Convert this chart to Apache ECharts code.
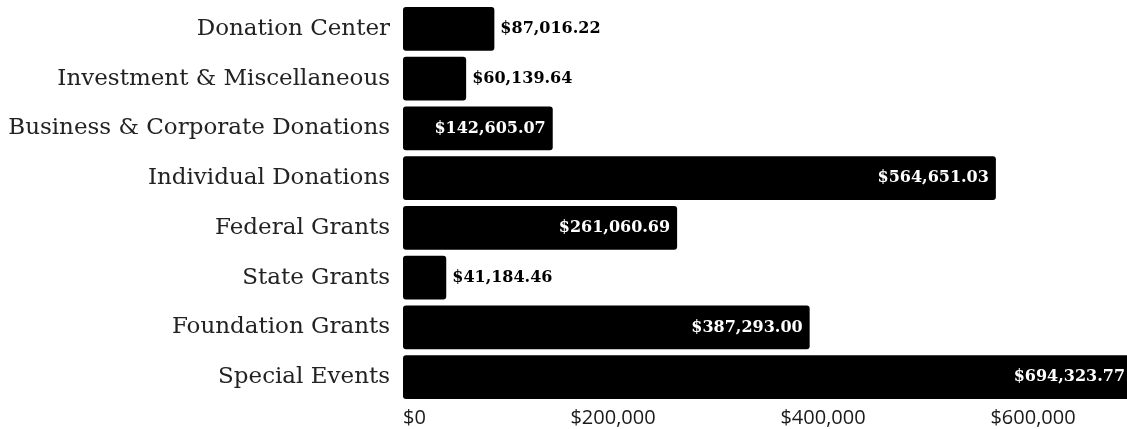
<!DOCTYPE html>
<html>
<head>
<meta charset="utf-8">
<script src="https://cdn.jsdelivr.net/npm/echarts@6/dist/echarts.min.js"></script>
<style>
  html, body { margin: 0; padding: 0; background: #fff; }
  #main { width: 1127px; height: 429px; }
</style>
</head>
<body>
<div id="main"></div>
<script>
// revenue sources, top to bottom
const categories = [
  'Donation Center',
  'Investment & Miscellaneous',
  'Business & Corporate Donations',
  'Individual Donations',
  'Federal Grants',
  'State Grants',
  'Foundation Grants',
  'Special Events'
]
const amounts = [87016.22, 60139.64, 142605.07, 564651.03, 261060.69, 41184.46, 387293.00, 694323.77]
const tickValues = [0, 200000, 400000, 600000]

const money = v => '$' + v.toLocaleString('en-US', { minimumFractionDigits: 2, maximumFractionDigits: 2 })
const tickText = v => '$' + v.toLocaleString('en-US')

const chart = echarts.init(document.getElementById('main'))

// short bars get their label outside, long ones inside in white
const barData = amounts.map(v => {
  const inside = v > 120000
  return {
    value: v,
    label: {
      position: inside ? 'insideRight' : 'right',
      color: inside ? '#fff' : '#000',
      distance: inside ? 7 : 6
    }
  }
})

chart.setOption({
  backgroundColor: '#fff',
  animation: false,
  grid: { left: 403, top: 4, width: 735, height: 398, containLabel: false, outerBoundsMode: 'none' },
  xAxis: {
    type: 'value',
    min: 0,
    max: 700000,
    interval: 200000,
    axisLine: { show: false },
    axisTick: { show: false },
    splitLine: { show: false },
    axisLabel: {
      margin: 6,
      fontFamily: 'Open Sans',
      fontSize: 20,
      color: '#1a1a1a',
      alignMinLabel: 'left',
      showMaxLabel: false,
      formatter: v => tickValues.includes(v) ? tickText(v) : ''
    }
  },
  yAxis: {
    type: 'category',
    data: categories,
    inverse: true,
    axisLine: { show: false },
    axisTick: { show: false },
    axisLabel: {
      margin: 13,
      fontFamily: 'DejaVu Serif',
      fontSize: 23,
      color: '#222'
    }
  },
  series: [{
    type: 'bar',
    data: barData,
    barCategoryGap: '12%',
    itemStyle: { color: '#000', borderRadius: 3 },
    label: {
      show: true,
      fontFamily: 'DejaVu Serif',
      fontWeight: 'bold',
      fontSize: 16,
      formatter: p => money(p.value)
    }
  }]
})
</script>
</body>
</html>
